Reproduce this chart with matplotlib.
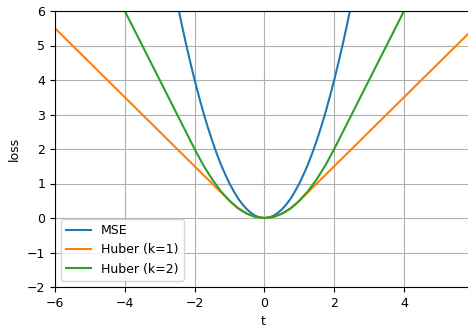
import matplotlib

matplotlib.use("Agg")
import matplotlib.pyplot as plt

plt.rcParams["font.size"] = 9

# values
mse_t = [-2.5, -2.375, -2.25, -2.125, -2.0, -1.875, -1.75, -1.625, -1.5, -1.375,
         -1.25, -1.125, -1.0, -0.875, -0.75, -0.625, -0.5, -0.375, -0.25, -0.125, 0.0,
         0.125, 0.25, 0.375, 0.5, 0.625, 0.75, 0.875, 1.0, 1.125, 1.25, 1.375,
         1.5, 1.625, 1.75, 1.875, 2.0, 2.125, 2.25, 2.375, 2.5]
mse_loss = [6.25, 5.64, 5.06, 4.52, 4.0, 3.52, 3.06, 2.64, 2.25, 1.89,
            1.56, 1.27, 1.0, 0.77, 0.56, 0.39, 0.25, 0.14, 0.06, 0.016, 0.0,
            0.016, 0.06, 0.14, 0.25, 0.39, 0.56, 0.77, 1.0, 1.27, 1.56, 1.89,
            2.25, 2.64, 3.06, 3.52, 4.0, 4.52, 5.06, 5.64, 6.25]

huber1_t = [-6.0, -1.0, -0.875, -0.75, -0.625, -0.5, -0.375, -0.25, -0.125, 0.0,
            0.125, 0.25, 0.375, 0.5, 0.625, 0.75, 0.875, 1.0, 5.9]
huber1_loss = [5.5, 0.5, 0.38, 0.28, 0.195, 0.125, 0.07, 0.03, 0.008, 0.0,
               0.008, 0.03, 0.07, 0.125, 0.195, 0.28, 0.38, 0.5, 5.4]

huber2_t = [-4.2, -2.0, -1.75, -1.5, -1.25, -1.0, -0.75, -0.5, -0.25, 0.0,
            0.25, 0.5, 0.75, 1.0, 1.25, 1.5, 1.75, 2.0, 4.2]
huber2_loss = [6.4, 2.0, 1.53, 1.125, 0.78, 0.5, 0.28, 0.125, 0.03, 0.0,
               0.03, 0.125, 0.28, 0.5, 0.78, 1.125, 1.53, 2.0, 6.4]

fig = plt.figure(figsize=(4.68, 3.27), dpi=100)
ax = fig.add_axes([55 / 468, 1 - 287 / 327, 1 - 55 / 468 + 0.005, (287 - 11) / 327])

ax.plot(mse_t, mse_loss, label="MSE")
ax.plot(huber1_t, huber1_loss, label="Huber (k=1)")
ax.plot(huber2_t, huber2_loss, label="Huber (k=2)")

ax.set_xlim(-6, 5.9)
ax.set_ylim(-2, 6)
ax.set_xticks([-6, -4, -2, 0, 2, 4])
ax.set_xlabel("t")
ax.set_ylabel("loss")
ax.grid(True)
ax.legend(loc="lower left")

fig.savefig("out.png", dpi=100)
